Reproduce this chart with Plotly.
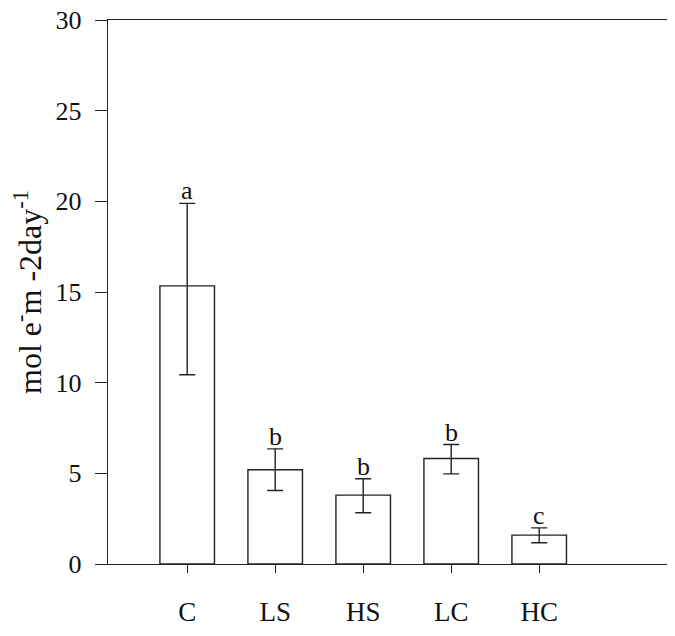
import plotly.graph_objects as go

categories = ["C", "LS", "HS", "LC", "HC"]
means = [15.34, 5.2, 3.80, 5.82, 1.59]
err_plus = [4.55, 1.15, 0.90, 0.77, 0.40]
err_minus = [4.90, 1.15, 0.97, 0.85, 0.42]
letters = ["a", "b", "b", "b", "c"]
y_ticks = [0, 5, 10, 15, 20, 25, 30]

FONT = "Liberation Serif"
LINE = "#222222"
TXT = "#111111"

fig = go.Figure()
fig.add_trace(go.Bar(
    x=categories, y=means, width=0.62,
    marker=dict(color="white", line=dict(color=LINE, width=1.4)),
    error_y=dict(type="data", array=err_plus, arrayminus=err_minus,
                 symmetric=False, color=LINE, thickness=1.4, width=8),
    showlegend=False,
))

for c, m, p, l in zip(categories, means, err_plus, letters):
    fig.add_annotation(x=c, y=m + p, text=l, showarrow=False,
                       yanchor="bottom", yshift=-4,
                       font=dict(family=FONT, size=26, color=TXT))

fig.update_layout(
    width=675, height=636,
    margin=dict(l=100, r=3, t=12, b=80),
    paper_bgcolor="white", plot_bgcolor="white",
    font=dict(family=FONT, color=TXT),
)
fig.update_xaxes(
    type="category", range=[-0.9, 5.6],
    showline=True, mirror=True, linecolor=LINE, linewidth=1.4,
    ticks="outside", ticklen=8, tickcolor=LINE, tickwidth=1.4,
    showgrid=False, zeroline=False,
    ticklabelstandoff=15,
    tickfont=dict(family=FONT, size=27, color=TXT),
    automargin=False,
)
fig.update_yaxes(
    range=[0, 30], tickvals=y_ticks,
    showline=True, mirror=True, linecolor=LINE, linewidth=1.4,
    ticks="outside", ticklen=12, tickcolor=LINE, tickwidth=1.4,
    showgrid=False, zeroline=False,
    ticklabelstandoff=8, ticklabeloverflow="allow",
    tickfont=dict(family=FONT, size=26, color=TXT),
    title=dict(text="mol e<sup>-</sup>m -2day<sup>-1</sup>",
               font=dict(family=FONT, size=32, color=TXT), standoff=4),
    automargin=False,
)

fig.write_html("out.html")
